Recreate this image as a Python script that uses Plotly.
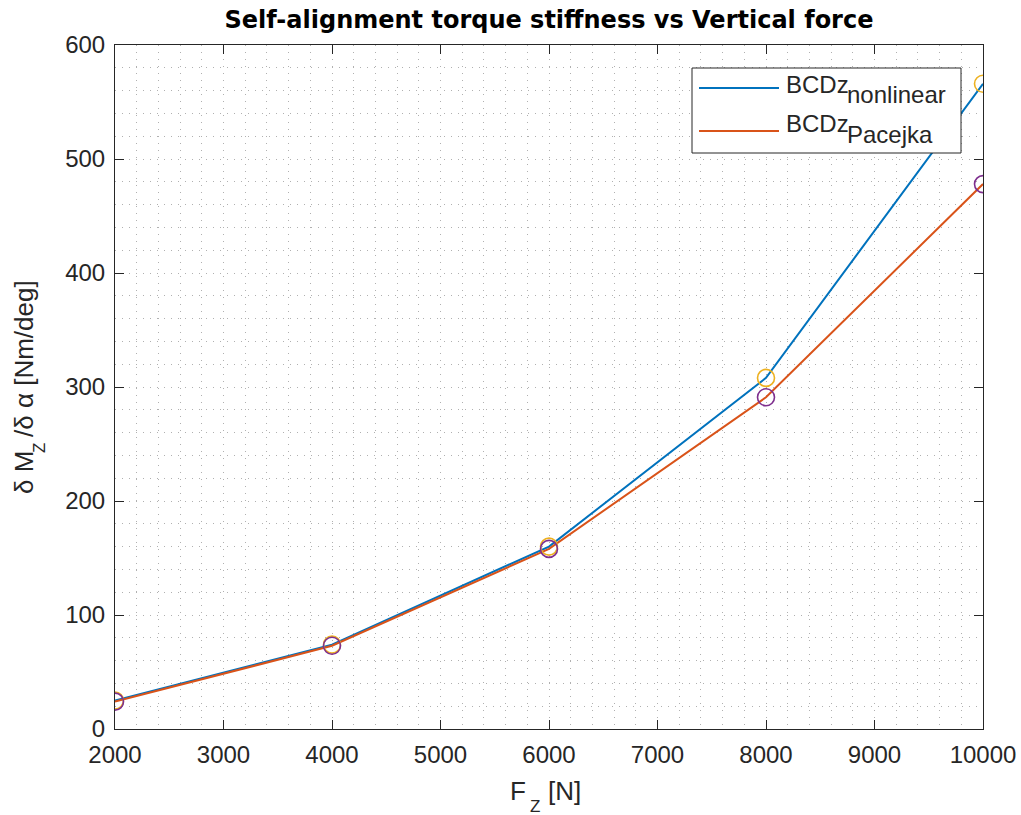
import plotly.graph_objects as go

# Vertical load [N]
fz = [2000, 4000, 6000, 8000, 10000]
# Self-alignment torque stiffness [Nm/deg]
bcdz_nonlinear = [25, 74, 160, 308, 566]
bcdz_pacejka = [24, 73, 158, 291, 478]

x_ticks = [2000, 3000, 4000, 5000, 6000, 7000, 8000, 9000, 10000]
x_tick_text = [str(v) for v in x_ticks]
y_ticks = [0, 100, 200, 300, 400, 500, 600]
y_tick_text = [str(v) for v in y_ticks]

BLUE = "#0072BD"
ORANGE = "#D95319"
YELLOW = "#EDB120"
PURPLE = "#7E2F8E"
AX = "#262626"
FONT = "Liberation Sans, Arial, sans-serif"
TITLE_FONT = "DejaVu Sans, sans-serif"

fig = go.Figure()
fig.add_trace(go.Scatter(x=fz, y=bcdz_nonlinear, mode="lines",
                         line=dict(color=BLUE, width=2), showlegend=False))
fig.add_trace(go.Scatter(x=fz, y=bcdz_pacejka, mode="lines",
                         line=dict(color=ORANGE, width=2), showlegend=False))
fig.add_trace(go.Scatter(x=fz, y=bcdz_nonlinear, mode="markers",
                         marker=dict(symbol="circle-open", size=17, color=YELLOW,
                                     line=dict(width=1.6, color=YELLOW)),
                         showlegend=False))
fig.add_trace(go.Scatter(x=fz, y=bcdz_pacejka, mode="markers",
                         marker=dict(symbol="circle-open", size=17, color=PURPLE,
                                     line=dict(width=1.6, color=PURPLE)),
                         showlegend=False))

W, H = 1021, 815
L, R, T, B = 115, 38, 45, 86
pw, ph = W - L - R, H - T - B


def px(xp):
    return (xp - L) / pw


def py(yp):
    return (H - B - yp) / ph


def label(text, x, y, size, xanchor="center", angle=0):
    return dict(xref="paper", yref="paper", x=px(x), y=py(y), xanchor=xanchor,
                yanchor="middle", showarrow=False, text=text, textangle=angle,
                font=dict(family=FONT, size=size, color=AX))


# Legend box, sample lines and entries (with lowered subscripts)
shapes = [
    dict(type="rect", xref="paper", yref="paper",
         x0=px(692), x1=px(961), y0=py(153), y1=py(68),
         line=dict(color=AX, width=1), fillcolor="white", layer="above"),
    dict(type="line", xref="paper", yref="paper",
         x0=px(699), x1=px(779), y0=py(88), y1=py(88),
         line=dict(color=BLUE, width=2), layer="above"),
    dict(type="line", xref="paper", yref="paper",
         x0=px(699), x1=px(779), y0=py(131), y1=py(131),
         line=dict(color=ORANGE, width=2), layer="above"),
]
annotations = [
    label("BCDz", 784, 84.5, 24, "left"),
    label("nonlinear", 845, 95, 24, "left"),
    label("BCDz", 784, 123.5, 24, "left"),
    label("Pacejka", 845, 135, 24, "left"),
    # x-axis title: F_Z [N]
    label("F", 518, 791, 26),
    label("Z", 535, 807, 17),
    label("[N]", 546, 791, 26, "left"),
    # y-axis title: δ M_Z/δ α [Nm/deg]
    label("δ M", 24, 473, 26, angle=-90),
    label("Z", 39, 448, 17, angle=-90),
    label("/δ α [Nm/deg]", 24, 359, 26, angle=-90),
]

grid = dict(showgrid=True, gridcolor="#b0b0b0", griddash="1px,6px", gridwidth=1)

fig.update_layout(
    width=W, height=H,
    margin=dict(l=L, r=R, t=T, b=B, autoexpand=False),
    paper_bgcolor="white", plot_bgcolor="white",
    title=dict(text="<b>Self-alignment torque stiffness vs Vertical force</b>",
               x=(L + pw / 2) / W, xanchor="center", y=1 - 20 / H, yanchor="middle",
               font=dict(family=TITLE_FONT, size=24, color="black")),
    xaxis=dict(range=[2000, 10000], tickvals=x_ticks, ticktext=x_tick_text,
               ticks="inside", ticklen=9, tickcolor=AX, showline=True, linecolor=AX,
               linewidth=1, mirror="ticks", zeroline=False, ticklabelstandoff=4,
               automargin=False,
               tickfont=dict(family=FONT, size=24, color=AX),
               minor=dict(dtick=200, **grid), **grid),
    yaxis=dict(range=[0, 600], tickvals=y_ticks, ticktext=y_tick_text,
               ticks="inside", ticklen=9, tickcolor=AX, showline=True, linecolor=AX,
               linewidth=1, mirror="ticks", zeroline=False, ticklabelstandoff=4,
               automargin=False,
               tickfont=dict(family=FONT, size=24, color=AX),
               minor=dict(dtick=20, **grid), **grid),
    shapes=shapes,
    annotations=annotations,
)

fig.write_html("out.html")
